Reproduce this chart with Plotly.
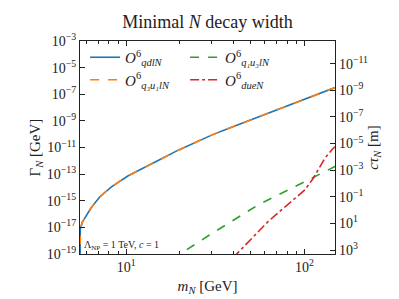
import numpy as np
import plotly.graph_objects as go

# ---- data ----
m_qdl = [5.50, 5.52, 5.66, 6.34, 7.11, 8.26, 10.26, 12.74, 15.78, 19.59, 24.32, 30.13, 37.41,
         63.1, 100.0, 148.6]
g_qdl = [1e-21, 10**-17.13, 10**-16.63, 10**-15.55, 10**-14.70, 10**-13.95, 10**-13.12,
         10**-12.45, 10**-11.85, 10**-11.20, 10**-10.62, 10**-10.07, 10**-9.58,
         10**-8.40, 10**-7.38, 10**-6.50]
m_q3u1 = m_qdl
g_q3u1 = g_qdl
m_q1u3 = [18.0, 20.0, 28.9, 55.2, 100.0, 145.6, 148.6]
g_q1u3 = [10**-19.4, 10**-19.0, 10**-17.63, 10**-15.30, 10**-13.6, 10**-12.49, 10**-12.40]
m_due = [39.8, 41.7, 62.8, 100.9, 112.5, 130.6, 145.6, 148.6]
g_due = [10**-19.3, 10**-19.0, 10**-16.54, 10**-14.17, 10**-13.29, 10**-11.79, 10**-11.04, 10**-10.95]

yticks = [1e-3, 1e-5, 1e-7, 1e-9, 1e-11, 1e-13, 1e-15, 1e-17, 1e-19]
yticktext = ["10<sup>−3</sup>", "10<sup>−5</sup>", "10<sup>−7</sup>", "10<sup>−9</sup>",
             "10<sup>−11</sup>", "10<sup>−13</sup>", "10<sup>−15</sup>", "10<sup>−17</sup>",
             "10<sup>−19</sup>"]
y2ticks = [1e-11, 1e-9, 1e-7, 1e-5, 1e-3, 1e-1, 1e1, 1e3]
y2ticktext = ["10<sup>−11</sup>", "10<sup>−9</sup>", "10<sup>−7</sup>", "10<sup>−5</sup>",
              "10<sup>−3</sup>", "10<sup>−1</sup>", "10<sup>1</sup>", "10<sup>3</sup>"]
xticks = [10, 100]
xticktext = ["10<sup>1</sup>", "10<sup>2</sup>"]
xminor = [6, 7, 8, 9, 20, 30, 40, 50, 60, 70, 80, 90]

HBARC = 1.973e-16  # GeV m
GMIN, GMAX = 1e-19, 1e-3
XMIN, XMAX = 5.50, 148.6

FONT = "Liberation Serif"

fig = go.Figure()
fig.add_trace(go.Scatter(x=m_qdl, y=g_qdl, mode="lines", name="<i>O</i><sup>6</sup><sub><i>qdlN</i></sub>",
                         line=dict(color="#1f77b4", width=1.6), legendrank=1))
fig.add_trace(go.Scatter(x=m_q1u3, y=g_q1u3, mode="lines", name="<i>O</i><sup>6</sup><sub><i>q₁u₃lN</i></sub>",
                         line=dict(color="#2ca02c", width=1.6, dash="dash"), legendrank=2))
fig.add_trace(go.Scatter(x=m_q3u1, y=g_q3u1, mode="lines", name="<i>O</i><sup>6</sup><sub><i>q₃u₁lN</i></sub>",
                         line=dict(color="#ff7f0e", width=1.6, dash="dash"), legendrank=3))
fig.add_trace(go.Scatter(x=m_due, y=g_due, mode="lines", name="<i>O</i><sup>6</sup><sub><i>dueN</i></sub>",
                         line=dict(color="#d62728", width=1.6, dash="dashdot"), legendrank=4))
# invisible trace on the c*tau axis
fig.add_trace(go.Scatter(x=m_qdl[1:], y=[HBARC / g for g in g_qdl[1:]], yaxis="y2", mode="lines",
                         opacity=0, showlegend=False, hoverinfo="skip"))

axis_common = dict(showline=True, linecolor="#222", linewidth=1.2, showgrid=False, zeroline=False,
                   ticks="inside", tickcolor="#222", ticklen=5, tickwidth=1,
                   tickfont=dict(family=FONT, size=14, color="#222"))

fig.update_layout(
    width=399, height=299,
    margin=dict(l=72, r=72, t=33, b=53),
    paper_bgcolor="white", plot_bgcolor="white",
    font=dict(family=FONT, size=14, color="#222"),
    title=dict(text="Minimal <i>N</i> decay width", x=0.5, xanchor="center", y=0.955, yanchor="middle",
               font=dict(family=FONT, size=18, color="#222")),
    xaxis=dict(type="log", range=[np.log10(XMIN), np.log10(XMAX)], mirror="ticks",
               tickvals=xticks, ticktext=xticktext,
               minor=dict(ticks="inside", ticklen=3, tickvals=xminor, tickcolor="#222", showgrid=False),
               title=dict(text="<i>m<sub>N</sub></i> [GeV]", standoff=6, font=dict(family=FONT, size=15)),
               **axis_common),
    yaxis=dict(type="log", range=[np.log10(GMIN), np.log10(GMAX)], tickvals=yticks, ticktext=yticktext,
               title=dict(text="Γ<sub><i>N</i></sub> [GeV]", standoff=2, font=dict(family=FONT, size=15)),
               **axis_common),
    yaxis2=dict(type="log", overlaying="y", side="right",
                range=[np.log10(HBARC / GMIN), np.log10(HBARC / GMAX)],
                tickvals=y2ticks, ticktext=y2ticktext,
                title=dict(text="<i>cτ<sub>N</sub></i> [m]", standoff=0, font=dict(family=FONT, size=15)),
                **axis_common),
    legend=dict(orientation="h", x=0.02, y=1.0, xanchor="left", yanchor="top",
                entrywidth=55, entrywidthmode="pixels", bgcolor="rgba(0,0,0,0)",
                font=dict(family=FONT, size=15, color="#222"), tracegroupgap=0),
    annotations=[dict(text="Λ<sub>NP</sub> = 1 TeV, <i>c</i> = 1", xref="paper", yref="paper",
                      x=0, y=0, xanchor="left", yanchor="bottom", xshift=2, yshift=0,
                      showarrow=False, font=dict(family=FONT, size=10, color="#222"))],
)

fig.write_html("out.html")
